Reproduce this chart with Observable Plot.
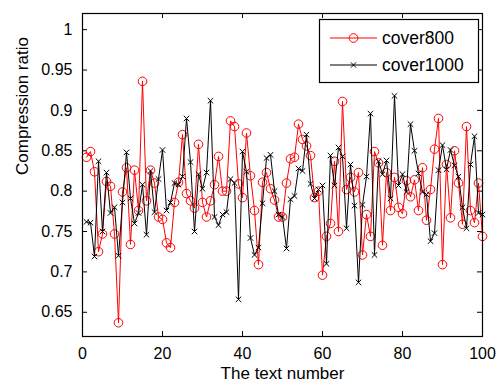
<!DOCTYPE html>
<html>
<head>
<meta charset="utf-8">
<script src="https://cdn.jsdelivr.net/npm/d3@7"></script>
<script src="https://cdn.jsdelivr.net/npm/@observablehq/plot@0.6"></script>
<style>
  html, body { margin: 0; padding: 0; background: #fff; }
  #chart { width: 498px; height: 382px; }
</style>
</head>
<body>
<div id="chart"></div>
<script>
const seriesNames = ["cover800", "cover1000"];
const cover800 = [
  0.842, 0.849, 0.824, 0.725, 0.747, 0.812, 0.806, 0.747, 0.637, 0.799,
  0.829, 0.734, 0.826, 0.776, 0.936, 0.788, 0.826, 0.810, 0.768, 0.765,
  0.736, 0.730, 0.786, 0.811, 0.870, 0.797, 0.788, 0.779, 0.858, 0.786,
  0.768, 0.788, 0.808, 0.843, 0.800, 0.800, 0.887, 0.880, 0.809, 0.792,
  0.872, 0.819, 0.776, 0.709, 0.811, 0.823, 0.803, 0.789, 0.768, 0.768,
  0.810, 0.840, 0.842, 0.883, 0.864, 0.856, 0.844, 0.792, 0.800, 0.696,
  0.744, 0.760, 0.837, 0.750, 0.911, 0.802, 0.817, 0.799, 0.823, 0.721,
  0.771, 0.744, 0.849, 0.835, 0.733, 0.823, 0.776, 0.817, 0.780, 0.772,
  0.813, 0.793, 0.814, 0.776, 0.829, 0.764, 0.802, 0.852, 0.890, 0.709,
  0.833, 0.767, 0.850, 0.810, 0.759, 0.880, 0.776, 0.761, 0.810, 0.744
];
const cover1000 = [
  0.762, 0.761, 0.719, 0.837, 0.750, 0.823, 0.773, 0.780, 0.720, 0.786,
  0.848, 0.791, 0.760, 0.773, 0.808, 0.746, 0.825, 0.774, 0.815, 0.851,
  0.776, 0.786, 0.810, 0.808, 0.818, 0.890, 0.836, 0.750, 0.821, 0.803,
  0.823, 0.912, 0.768, 0.758, 0.771, 0.774, 0.815, 0.810, 0.666, 0.849,
  0.824, 0.742, 0.721, 0.730, 0.785, 0.841, 0.845, 0.800, 0.771, 0.768,
  0.729, 0.790, 0.794, 0.828, 0.825, 0.870, 0.809, 0.791, 0.802, 0.807,
  0.710, 0.844, 0.807, 0.854, 0.843, 0.754, 0.833, 0.782, 0.687, 0.783,
  0.818, 0.896, 0.721, 0.837, 0.821, 0.838, 0.791, 0.918, 0.807, 0.821,
  0.799, 0.883, 0.850, 0.822, 0.799, 0.796, 0.738, 0.748, 0.826, 0.857,
  0.827, 0.851, 0.832, 0.818, 0.780, 0.754, 0.833, 0.868, 0.773, 0.771
];
const xTicks = [0, 20, 40, 60, 80, 100];
const yTicks = [0.65, 0.7, 0.75, 0.8, 0.85, 0.9, 0.95, 1];
const xTitle = "The text number";
const yTitle = "Compression ratio";

const d800 = cover800.map((v, i) => ({n: i + 1, v}));
const d1000 = cover1000.map((v, i) => ({n: i + 1, v}));

const W = 498, H = 382;
const mL = 82, mR = 16, mT = 13, mB = 46;
const pw = W - mL - mR, ph = H - mT - mB, tk = 5;
const font = "'Liberation Sans', Arial, Helvetica, sans-serif";

const plot = Plot.plot({
  width: W, height: H,
  marginLeft: mL, marginRight: mR, marginTop: mT, marginBottom: mB,
  style: {fontFamily: font, fontSize: "16px", background: "#fff", color: "#000"},
  x: {domain: [0, 100], ticks: xTicks},
  y: {domain: [0.62, 1.02], ticks: yTicks},
  marks: [
    Plot.axisX({ticks: xTicks, tickSize: 0, tickPadding: 11, label: null, fontSize: 16}),
    Plot.axisY({ticks: yTicks, tickSize: 0, tickPadding: 10, label: null, fontSize: 16,
      tickFormat: d => String(+d.toFixed(2))}),
    Plot.tickX(xTicks, {x: d => d, insetTop: ph - tk, stroke: "#000"}),
    Plot.tickX(xTicks, {x: d => d, insetBottom: ph - tk, stroke: "#000"}),
    Plot.tickY(yTicks, {y: d => d, insetRight: pw - tk, stroke: "#000"}),
    Plot.tickY(yTicks, {y: d => d, insetLeft: pw - tk, stroke: "#000"}),
    Plot.line(d800, {x: "n", y: "v", stroke: "#ff0000", strokeWidth: 1}),
    Plot.dot(d800, {x: "n", y: "v", r: 4.3, stroke: "#ff0000", fill: "none", strokeWidth: 1}),
    Plot.line(d1000, {x: "n", y: "v", stroke: "#000", strokeWidth: 1}),
    Plot.dot(d1000, {x: "n", y: "v", symbol: "times", r: 2.6, stroke: "#000", strokeWidth: 1}),
    Plot.frame({stroke: "#000", strokeWidth: 1.2}),
    Plot.text([xTitle], {frameAnchor: "bottom", text: d => d, dy: 42, lineAnchor: "bottom", fontSize: 17, fill: "#000"}),
    Plot.text([yTitle], {frameAnchor: "left", text: d => d, dx: -60, rotate: -90, fontSize: 17, fill: "#000"})
  ]
});
document.getElementById("chart").appendChild(plot);

// Legend (inside plot, top-right), drawn into the same SVG
const svg = d3.select(plot);
const lg = svg.append("g").attr("font-family", font).attr("font-size", 17.5).attr("text-anchor", "start");
const bx = 319.5, by = 19.5, bw = 159, bh = 63;
lg.append("rect").attr("x", bx).attr("y", by).attr("width", bw).attr("height", bh)
  .attr("fill", "#fff").attr("stroke", "#000").attr("stroke-width", 1.2);
const rows = [
  {name: seriesNames[0], color: "#ff0000", y: 38},
  {name: seriesNames[1], color: "#000", y: 65}
];
rows.forEach((r, i) => {
  lg.append("line").attr("x1", 330).attr("x2", 377).attr("y1", r.y).attr("y2", r.y)
    .attr("stroke", r.color).attr("stroke-width", 1);
  if (i === 0) {
    lg.append("circle").attr("cx", 353.5).attr("cy", r.y).attr("r", 4.3)
      .attr("fill", "none").attr("stroke", r.color);
  } else {
    const s = 2.6;
    lg.append("path").attr("d", `M${353.5 - s},${r.y - s}L${353.5 + s},${r.y + s}M${353.5 - s},${r.y + s}L${353.5 + s},${r.y - s}`)
      .attr("stroke", r.color).attr("fill", "none");
  }
  lg.append("text").attr("x", 382).attr("y", r.y).attr("dy", "0.35em")
    .attr("text-anchor", "start").attr("fill", "#000").text(r.name);
});
</script>
</body>
</html>
